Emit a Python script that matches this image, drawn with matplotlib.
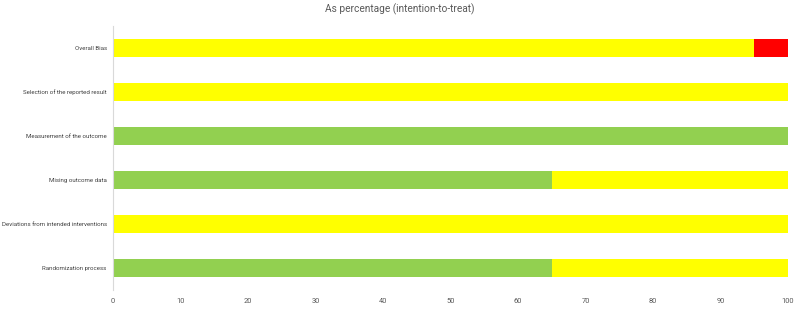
import matplotlib
matplotlib.use("Agg")
import matplotlib.pyplot as plt

categories = ["Randomization process", "Deviations from intended interventions",
              "Mising outcome data", "Measurement of the outcome",
              "Selection of the reported result", "Overall Bias"]
low = [65, 0, 65, 100, 0, 0]
some = [35, 100, 35, 0, 100, 95]
high = [0, 0, 0, 0, 0, 5]
xticks = [0, 10, 20, 30, 40, 50, 60, 70, 80, 90, 100]

label_font = ['Roboto', 'DejaVu Sans']

plt.rcParams['font.family'] = ['Roboto', 'DejaVu Sans']
fig = plt.figure(figsize=(7.96, 3.09), dpi=100)
ax = fig.add_axes([113/796, 1-290/309, (788-113)/796, (290-26)/309])

y = range(len(categories))
h = 0.4
ax.barh(y, low, height=h, color="#92D050", linewidth=0)
ax.barh(y, some, left=low, height=h, color="#FFFF00", linewidth=0)
left2 = [a + b for a, b in zip(low, some)]
ax.barh(y, high, left=left2, height=h, color="#FF0000", linewidth=0)

ax.set_xlim(0, 100)
ax.set_ylim(-0.5, len(categories) - 0.5)
ax.set_yticks(list(y))
ax.set_yticklabels(categories, fontsize=4.45, color="#404040", family=label_font)
ax.set_xticks(xticks)
ax.set_xticklabels([str(t) for t in xticks], fontsize=5.4, color="#595959", family=label_font)
ax.tick_params(axis='y', length=0, pad=4.5)
ax.tick_params(axis='x', length=0, pad=6)
for s in ['top', 'right', 'bottom']:
    ax.spines[s].set_visible(False)
ax.spines['left'].set_color("#D9D9D9")
ax.spines['left'].set_linewidth(0.8)

fig.text(400/796, 1-9/309, "As percentage (intention-to-treat)", ha='center', va='center',
         fontsize=7.3, color="#595959")

fig.savefig("out.png", dpi=100)
